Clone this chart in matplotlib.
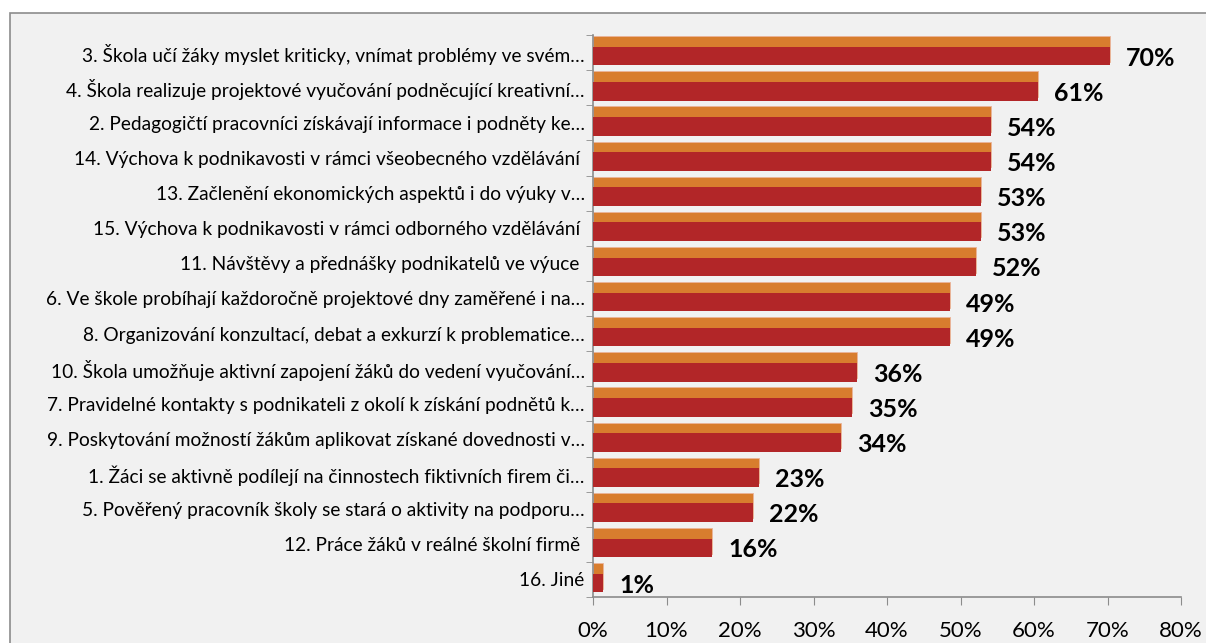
import matplotlib
matplotlib.use('Agg')
import matplotlib.pyplot as plt
from matplotlib.patches import Rectangle

# Category labels (top to bottom as shown)
labels = [
    '3. Škola učí žáky myslet kriticky, vnímat problémy ve svém…',
    '4. Škola realizuje projektové vyučování podněcující kreativní…',
    '2. Pedagogičtí pracovníci získávají informace i podněty ke…',
    '14. Výchova k podnikavosti v rámci všeobecného vzdělávání ',
    '13. Začlenění ekonomických aspektů i do výuky v…',
    '15. Výchova k podnikavosti v rámci odborného vzdělávání ',
    '11. Návštěvy a přednášky podnikatelů ve výuce ',
    '6. Ve škole probíhají každoročně projektové dny zaměřené i na…',
    '8. Organizování konzultací, debat a exkurzí k problematice…',
    '10. Škola umožňuje aktivní zapojení žáků do vedení vyučování…',
    '7. Pravidelné kontakty s podnikateli z okolí k získání podnětů k…',
    '9. Poskytování možností žákům aplikovat získané dovednosti v…',
    '1. Žáci se aktivně podílejí na činnostech fiktivních firem či…',
    '5. Pověřený pracovník školy se stará o aktivity na podporu…',
    '12. Práce žáků v reálné školní firmě ',
    '16. Jiné',
]
values = [70.3, 60.5, 54.1, 54.1, 52.8, 52.8, 52.1, 48.6, 48.6,
          35.9, 35.2, 33.7, 22.6, 21.8, 16.2, 1.4]
value_labels = ['70%', '61%', '54%', '54%', '53%', '53%', '52%', '49%', '49%',
                '36%', '35%', '34%', '23%', '22%', '16%', '1%']
x_ticks = [0, 10, 20, 30, 40, 50, 60, 70, 80]

W, H = 1206, 643
fig = plt.figure(figsize=(W / 100, H / 100), dpi=100)
fig.patch.set_facecolor('white')
plt.rcParams['font.family'] = ['Lato', 'DejaVu Sans']

# chart area frame
fig.patches.append(Rectangle((10 / W, -0.1), 1.2, (H - 13) / H + 0.1,
                             transform=fig.transFigure, facecolor='#f1f1f1',
                             edgecolor='#8c8c8c', linewidth=1.2, zorder=-5))

ax = fig.add_axes([593 / W, 46 / H, (1181 - 593) / W, (608 - 46) / H])
ax.set_facecolor('none')

n = len(values)
ypos = [n - 1 - i for i in range(n)]

# orange top strip + red body
ax.barh([y + 0.1 for y in ypos], values, height=0.73, color='#d87d2e',
        edgecolor='#eab49a', linewidth=0.6, zorder=2)
ax.barh([y - 0.1 for y in ypos], values, height=0.53, color='#b22628',
        edgecolor='none', linewidth=0, zorder=3)

for y, v, t in zip(ypos, values, value_labels):
    ax.text(v + 2.2, y - 0.16, t, va='center', ha='left', fontsize=18,
            fontweight='bold', color='black')

ax.set_xlim(0, 80)
ax.set_ylim(-0.5, n - 0.5)
ax.set_xticks(x_ticks)
ax.set_xticklabels([f'{t}%' for t in x_ticks], fontsize=16)
ax.set_yticks(ypos)
ax.set_yticklabels(labels, fontsize=13.8)
ax.set_yticks([k - 0.5 for k in range(n + 1)], minor=True)
ax.tick_params(axis='y', which='major', length=0, pad=6)
ax.tick_params(axis='y', which='minor', length=5, color='#8c8c8c', direction='out')
ax.tick_params(axis='x', length=6, color='#8c8c8c', direction='out', pad=11)

for side in ['top', 'right']:
    ax.spines[side].set_visible(False)
for side in ['left', 'bottom']:
    ax.spines[side].set_color('#8c8c8c')
    ax.spines[side].set_linewidth(1.2)

fig.savefig('out.png', dpi=100)
